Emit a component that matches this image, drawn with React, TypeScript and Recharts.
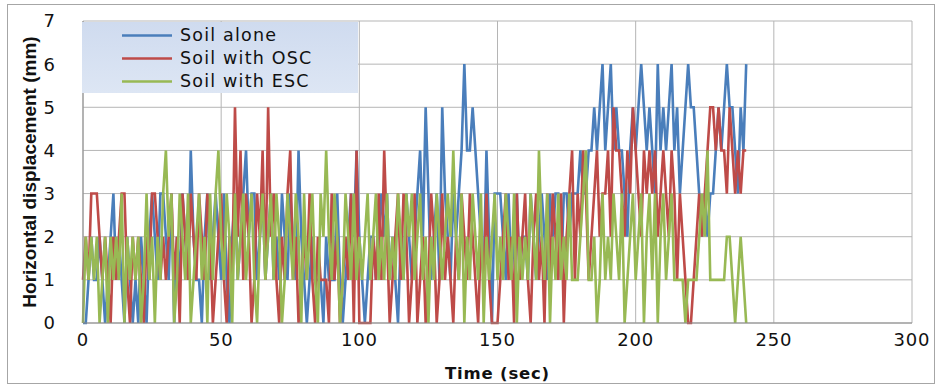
import React from "react";
import { LineChart, Line, XAxis, YAxis, CartesianGrid } from "recharts";

const TIME_STEP = 1; // sec between samples
const X_TICKS = [0, 50, 100, 150, 200, 250, 300];
const Y_TICKS = [0, 1, 2, 3, 4, 5, 6, 7];

const SERIES_NAMES = ["Soil alone", "Soil with OSC", "Soil with ESC"];
const SERIES_COLORS = ["#4a7ebb", "#be4b48", "#98b954"];

const soilAlone = [
  0,0,1,2,1,1,2,1,0,1,
  2,3,1,2,1,0,2,1,0,1,
  0,2,1,0,2,3,2,1,3,3,
  2,1,3,0,2,1,3,2,1,4,
  2,1,1,0,2,3,1,2,3,2,
  1,3,1,0,2,3,1,2,3,4,
  2,3,3,1,2,3,1,2,3,1,
  2,1,3,2,1,3,2,1,4,2,
  1,0,1,2,1,1,1,0,2,1,
  1,1,3,1,0,1,2,3,2,4,
  2,1,0,1,2,2,1,2,3,2,
  3,1,2,1,0,2,1,3,2,1,
  2,3,4,2,5,3,1,2,3,1,
  5,3,2,1,3,2,3,4,6,4,
  4,5,4,3,2,1,4,2,0,3,
  3,3,2,1,3,1,2,3,1,2,
  2,1,3,2,1,2,3,2,1,3,
  2,3,3,1,3,3,2,3,3,3,
  4,3,3,4,4,5,4,5,6,4,
  5,6,4,5,4,4,3,2,4,5,
  4,5,6,5,4,5,4,3,6,4,
  5,4,5,6,4,5,3,4,5,6,
  5,5,4,3,2,3,2,3,3,4,
  5,4,5,6,5,5,4,3,5,4,
  6,
];

const soilOSC = [
  1,2,1,3,3,3,2,1,2,1,
  0,2,1,2,3,3,1,0,2,1,
  2,1,0,2,1,3,3,2,1,2,
  1,2,3,1,2,0,3,2,1,3,
  2,1,3,2,1,3,2,0,1,2,
  3,1,0,2,1,5,2,4,1,3,
  2,0,1,3,2,4,1,5,2,3,
  1,0,2,1,3,4,1,2,0,1,
  2,1,3,1,0,2,1,1,1,0,
  3,1,2,0,1,2,1,3,0,4,
  0,0,0,0,0,2,1,3,1,4,
  2,0,1,2,3,1,3,2,0,1,
  3,0,1,2,0,1,3,2,0,1,
  3,1,2,1,0,2,1,3,2,1,
  3,2,1,0,2,1,3,1,0,0,
  0,1,2,3,1,2,0,3,1,2,
  3,1,0,2,3,1,2,0,3,1,
  3,2,1,3,0,2,3,4,1,3,
  2,4,3,1,2,3,4,2,3,3,
  4,2,5,4,4,3,2,4,3,5,
  4,3,2,4,3,4,3,4,2,3,
  4,3,2,4,3,1,3,2,1,0,
  0,1,2,3,2,3,4,5,5,4,
  5,4,4,3,5,4,3,4,3,4,
  4,
];

const soilESC = [
  0,2,1,2,1,2,0,1,2,0,
  2,1,2,1,3,0,2,1,2,1,
  2,0,1,3,1,2,0,2,1,3,
  4,2,3,0,1,3,2,1,3,0,
  1,2,3,1,2,0,3,1,3,4,
  2,1,3,2,0,3,1,2,3,1,
  2,3,1,0,2,3,1,2,3,1,
  3,2,0,1,3,2,1,3,2,0,
  3,1,2,3,1,0,3,2,4,2,
  1,3,2,0,1,3,2,1,3,1,
  2,1,2,3,1,2,3,1,2,1,
  3,1,2,1,3,2,1,3,2,3,
  1,2,3,1,2,0,2,1,3,2,
  1,2,3,2,4,2,1,3,0,2,
  1,3,2,1,3,0,2,1,2,3,
  1,2,1,3,2,1,3,0,2,1,
  2,1,3,2,1,4,2,1,3,0,
  2,1,3,1,2,1,3,1,1,1,
  2,3,4,1,1,2,0,1,3,1,
  2,1,3,2,1,3,0,1,2,3,
  1,2,3,0,2,3,1,3,0,2,
  3,1,2,3,1,1,1,1,0,1,
  1,1,1,2,3,2,4,1,1,1,
  1,1,1,2,2,1,0,1,2,1,
  0,
];

const SERIES = [soilAlone, soilOSC, soilESC];

const data = soilAlone.map((_, i) => ({
  t: i * TIME_STEP,
  s0: soilAlone[i],
  s1: soilOSC[i],
  s2: soilESC[i],
}));

const hFont = "'DejaVu Sans', sans-serif";

export default function App() {
  return (
    <div style={{ position: "absolute", left: 0, top: 0, width: 940, height: 387, background: "#fff" }}>
      <div
        style={{
          position: "absolute",
          left: 7,
          top: 4,
          width: 928,
          height: 380,
          border: "1px solid #a6a6a6",
          boxSizing: "border-box",
        }}
      />
      <LineChart
        width={940}
        height={387}
        data={data}
        margin={{ top: 21, right: 28, bottom: 0, left: 0 }}
      >
        <CartesianGrid stroke="#b5b5b5" strokeWidth={1} />
        <XAxis
          dataKey="t"
          type="number"
          domain={[0, 300]}
          ticks={X_TICKS}
          height={64}
          tickSize={0}
          tickMargin={10}
          stroke="#8c8c8c"
          tick={{ fontSize: 18, fill: "#111", fontFamily: hFont, letterSpacing: 0.8 }}
          label={{
            value: "Time (sec)",
            position: "insideBottom",
            offset: 8,
            style: { fontSize: 16.5, fontWeight: "bold", fill: "#111", fontFamily: hFont, letterSpacing: 0.8 },
          }}
        />
        <YAxis
          type="number"
          domain={[0, 7]}
          ticks={Y_TICKS}
          width={83}
          tickSize={0}
          tickMargin={28}
          stroke="#8c8c8c"
          tick={{ fontSize: 18, fill: "#111", fontFamily: hFont }}
          label={{
            value: "Horizontal displacement (mm)",
            angle: -90,
            position: "insideLeft",
            offset: 29,
            style: {
              fontSize: 19,
              fontWeight: "bold",
              fill: "#111",
              fontFamily: "'Liberation Sans', Arial, sans-serif",
              textAnchor: "middle",
            },
          }}
        />
        {SERIES.map((_, k) => (
          <Line
            key={k}
            type="linear"
            dataKey={"s" + k}
            name={SERIES_NAMES[k]}
            stroke={SERIES_COLORS[k]}
            strokeWidth={2.6}
            dot={false}
            isAnimationActive={false}
          />
        ))}
      </LineChart>
      <div
        style={{
          position: "absolute",
          left: 82,
          top: 22,
          width: 276,
          height: 71,
          background: "linear-gradient(#cfdbef, #dde6f4)",
        }}
      >
        {SERIES_NAMES.map((name, k) => (
          <div
            key={name}
            style={{
              position: "absolute",
              left: 0,
              top: 2 + k * 23,
              height: 23,
              display: "flex",
              alignItems: "center",
            }}
          >
            <svg width={98} height={23} style={{ display: "block" }}>
              <line x1={40} x2={90} y1={11.5} y2={11.5} stroke={SERIES_COLORS[k]} strokeWidth={2.6} />
            </svg>
            <span
              style={{
                fontFamily: hFont,
                fontSize: 17.5,
                letterSpacing: 1.2,
                color: "#111",
                lineHeight: "23px",
              }}
            >
              {name}
            </span>
          </div>
        ))}
      </div>
    </div>
  );
}
